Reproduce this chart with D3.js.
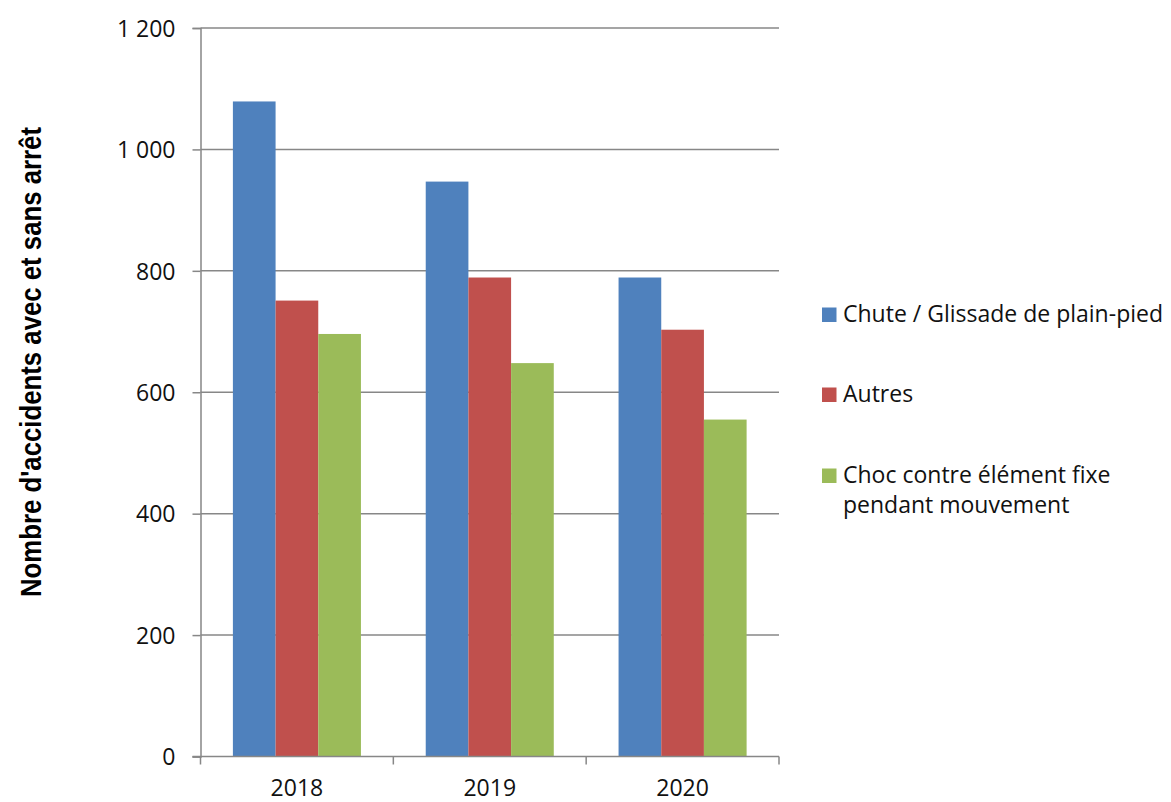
<!DOCTYPE html>
<html>
<head>
<meta charset="utf-8">
<script src="https://cdn.jsdelivr.net/npm/d3@7"></script>
<style>
  html, body { margin: 0; padding: 0; background: #fff; }
  svg { display: block; }
</style>
</head>
<body>
<svg id="chart" width="1171" height="802"></svg>
<script>
const categories = ["2018", "2019", "2020"];
const seriesNames = ["Chute / Glissade de plain-pied", "Autres", "Choc contre élément fixe pendant mouvement"];
const chuteValues = [1079, 947, 789];
const autresValues = [751, 789, 703];
const chocValues = [696, 648, 555];
const yTicks = [0, 200, 400, 600, 800, 1000, 1200];
const colors = ["#4F81BD", "#C0504D", "#9BBB59"];
const yTitle = "Nombre d'accidents avec et sans arrêt";

(function () {
const series = [chuteValues, autresValues, chocValues];

const svg = d3.select("#chart");
const pLeft = 200.5, pRight = 779, pTop = 28, pBottom = 756.5;
const gridColor = "#878787";
const font = "'Open Sans', 'Noto Sans', sans-serif";

const y = d3.scaleLinear().domain([0, 1200]).range([pBottom, pTop]);
const x0 = d3.scaleBand().domain(categories).range([pLeft, pRight]).paddingInner(0.336).paddingOuter(0.168);
const x1 = d3.scaleBand().domain(d3.range(series.length)).range([0, x0.bandwidth()]);

const loc = d3.formatLocale({decimal: ",", thousands: "\u00a0", grouping: [3], currency: ["", "€"]});
const fmt = loc.format(",d");

// gridlines
svg.append("g").selectAll("line").data(yTicks.filter(d => d > 0)).join("line")
  .attr("x1", pLeft).attr("x2", pRight)
  .attr("y1", d => y(d)).attr("y2", d => y(d))
  .attr("stroke", gridColor).attr("stroke-width", 1.5);

// y axis
const yAxis = svg.append("g").attr("transform", `translate(${pLeft},0)`)
  .call(d3.axisLeft(y).tickValues(yTicks).tickFormat(fmt).tickSize(8).tickPadding(17));
yAxis.select(".domain").attr("stroke", gridColor).attr("stroke-width", 1.5);
yAxis.selectAll(".tick line").attr("stroke", gridColor).attr("stroke-width", 1.5);
yAxis.selectAll(".tick text").attr("font-family", font).attr("font-size", 23).attr("fill", "#111").attr("dy", "0.36em");

// bars
const groups = svg.append("g").selectAll("g").data(categories).join("g")
  .attr("transform", d => `translate(${x0(d)},0)`);
groups.selectAll("rect").data((c, i) => series.map((s, k) => ({k, v: s[i]}))).join("rect")
  .attr("x", d => x1(d.k)).attr("width", x1.bandwidth())
  .attr("y", d => y(d.v)).attr("height", d => y(0) - y(d.v))
  .attr("fill", d => colors[d.k]);

// x axis
const step = x0.step();
const xg = svg.append("g");
xg.append("line").attr("x1", pLeft - 8).attr("x2", pRight).attr("y1", pBottom).attr("y2", pBottom)
  .attr("stroke", gridColor).attr("stroke-width", 1.5);
xg.selectAll("line.tk").data(d3.range(categories.length + 1)).join("line").attr("class", "tk")
  .attr("x1", i => pLeft + i * step).attr("x2", i => pLeft + i * step)
  .attr("y1", pBottom).attr("y2", pBottom + 8)
  .attr("stroke", gridColor).attr("stroke-width", 1.5);
xg.selectAll("text").data(categories).join("text")
  .attr("x", d => x0(d) + x0.bandwidth() / 2).attr("y", 796)
  .attr("text-anchor", "middle").attr("font-family", font).attr("font-size", 23).attr("fill", "#111")
  .text(d => d);

// y title
svg.append("text")
  .attr("transform", "translate(41,362) rotate(-90)")
  .attr("text-anchor", "middle")
  .attr("font-family", "'Liberation Sans', Arial, sans-serif").attr("font-weight", "bold")
  .attr("font-size", 29).attr("fill", "#000")
  .attr("textLength", 470).attr("lengthAdjust", "spacingAndGlyphs")
  .text(yTitle);

// legend
const legendLines = [["Chute / Glissade de plain-pied"], ["Autres"], ["Choc contre élément fixe", "pendant mouvement"]];
const legendY = [322, 402, 483];
const lg = svg.append("g");
seriesNames.forEach((name, i) => {
  lg.append("rect").attr("x", 822).attr("y", legendY[i] - 14.5).attr("width", 14.5).attr("height", 14.5).attr("fill", colors[i]);
  const t = lg.append("text").attr("x", 843).attr("y", legendY[i])
    .attr("font-family", font).attr("font-size", 23).attr("fill", "#111");
  legendLines[i].forEach((ln, j) => {
    t.append("tspan").attr("x", 843).attr("y", legendY[i] + j * 30).text(ln);
  });
});
})();
</script>
</body>
</html>
